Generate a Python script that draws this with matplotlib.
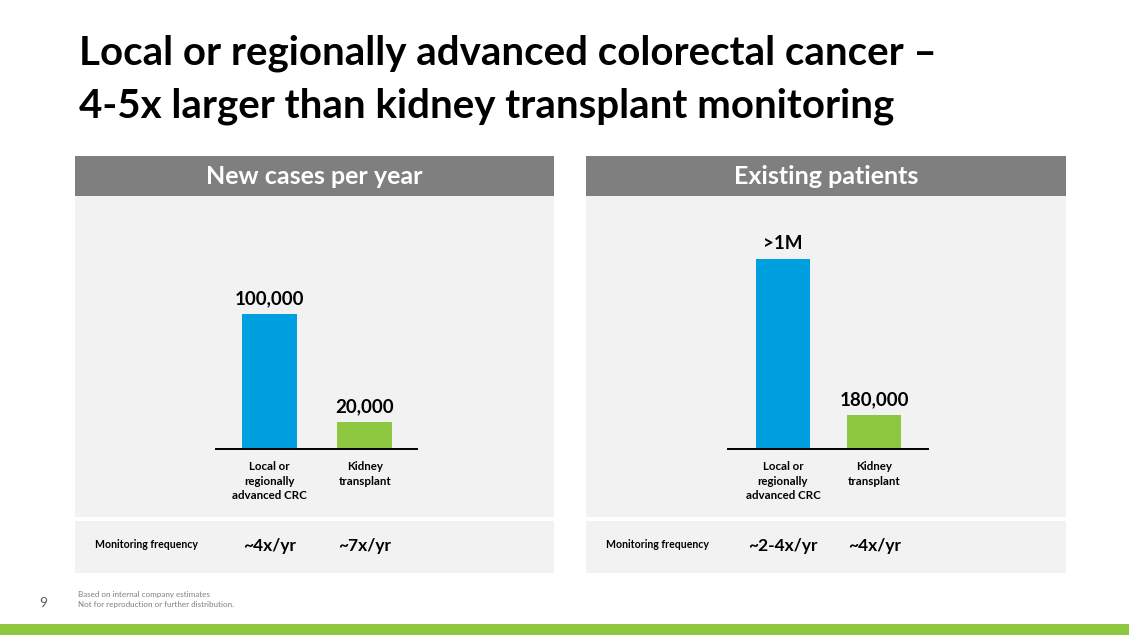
import matplotlib.pyplot as plt
from matplotlib.patches import Rectangle
from matplotlib.transforms import blended_transform_factory

plt.rcParams['font.family'] = ['Lato', 'DejaVu Sans']

# data
categories = ['Local or\nregionally\nadvanced CRC', 'Kidney\ntransplant']
new_cases = [100000, 20000]
new_labels = ['100,000', '20,000']
existing = [1000000, 180000]
existing_labels = ['>1M', '180,000']
freq_new = ['~4x/yr', '~7x/yr']
freq_existing = ['~2-4x/yr', '~4x/yr']
bar_colors = ['#009fe0', '#8dc63f']

W, H = 1129, 635
fig = plt.figure(figsize=(W / 100, H / 100), dpi=100)


def fx(x):
    return x / W


def fy(y):
    return 1 - y / H


def box(x0, y0, x1, y1, color):
    fig.add_artist(Rectangle((fx(x0), fy(y1)), (x1 - x0) / W, (y1 - y0) / H,
                             transform=fig.transFigure, color=color,
                             lw=0, zorder=-5))


def px_axes(x0, y0, x1, y1):
    return fig.add_axes([fx(x0), fy(y1), (x1 - x0) / W, (y1 - y0) / H])


# title
fig.text(fx(79), fy(53), 'Local or regionally advanced colorectal cancer \u2013',
         fontsize=29, fontweight='bold', va='center', ha='left')
fig.text(fx(79), fy(106), '4-5x larger than kidney transplant monitoring',
         fontsize=29, fontweight='bold', va='center', ha='left')

panels = [
    dict(x0=75, x1=554, title='New cases per year', vals=new_cases,
         labels=new_labels, freq=freq_new, ax_x=(216, 417),
         centers=(269.3, 364.7), bw=55, top_px=135),
    dict(x0=586, x1=1066, title='Existing patients', vals=existing,
         labels=existing_labels, freq=freq_existing, ax_x=(728, 928),
         centers=(783, 874.3), bw=54, top_px=190),
]

base_y = 449
ax_top = 220

for p in panels:
    box(p['x0'], 156, p['x1'], 196, '#7f7f7f')
    box(p['x0'], 196, p['x1'], 517, '#f2f2f2')
    box(p['x0'], 521, p['x1'], 573, '#f2f2f2')
    fig.text(fx((p['x0'] + p['x1']) / 2), fy(177), p['title'], color='white',
             fontsize=18, fontweight='bold', ha='center', va='center')

    ax = px_axes(p['ax_x'][0], ax_top, p['ax_x'][1], base_y)
    c0, c1 = p['centers']
    step = c1 - c0
    ax.set_xlim(-(c0 - p['ax_x'][0]) / step, 1 + (p['ax_x'][1] - c1) / step)
    ax.set_ylim(0, p['vals'][0] * (base_y - ax_top) / p['top_px'])
    ax.bar([0, 1], p['vals'], width=p['bw'] / step, color=bar_colors)
    for i, (v, lab) in enumerate(zip(p['vals'], p['labels'])):
        ax.annotate(lab, (i, v), xytext=(0, 5), textcoords='offset points',
                    ha='center', va='bottom', fontsize=13.5, fontweight='bold')
    ax.patch.set_visible(False)
    for s in ['top', 'left', 'right']:
        ax.spines[s].set_visible(False)
    ax.spines['bottom'].set_linewidth(1.4)
    ax.spines['bottom'].set_color('black')
    ax.set_yticks([])
    ax.set_xticks([0, 1])
    ax.set_xticklabels(categories, fontsize=8.3, fontweight='bold',
                       linespacing=1.35, va='top')
    ax.tick_params(axis='x', length=0, pad=9)

    tr = blended_transform_factory(ax.transData, fig.transFigure)
    fig.text(fx(p['x0'] + 20), fy(545), 'Monitoring frequency', fontsize=7.6,
             fontweight='bold', ha='left', va='center')
    for i, f in enumerate(p['freq']):
        ax.text(i, fy(546), f, transform=tr, ha='center', va='center',
                fontsize=12.5, fontweight='bold')

# footer
fig.text(fx(39), fy(603), '9', fontsize=10, color='#595959', ha='left',
         va='center')
fig.text(fx(78), fy(594), 'Based on internal company estimates', fontsize=5.8,
         color='#7f7f7f', ha='left', va='center')
fig.text(fx(78), fy(605), 'Not for reproduction or further distribution.',
         fontsize=5.8, color='#7f7f7f', ha='left', va='center')
box(0, 624, W, H, '#8dc63f')

plt.savefig('out.png', dpi=100)
